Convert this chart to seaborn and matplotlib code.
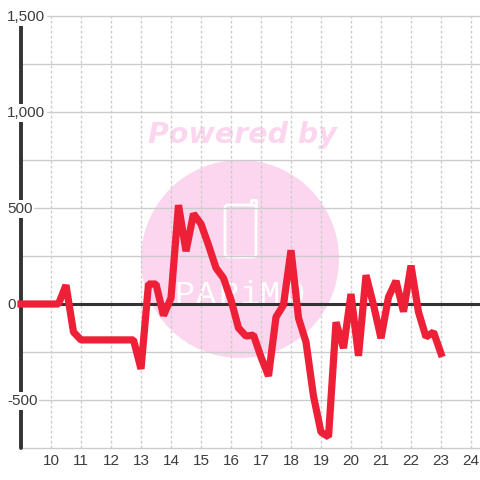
import numpy as np
import pandas as pd
import matplotlib.pyplot as plt
import seaborn as sns
from matplotlib.patches import Circle, FancyBboxPatch

# quarter-hour readings, 9:00 to 23:00
hours = np.arange(9, 23.25, 0.25)
values = [0, 0, 0, 0, 0, 0, 98, -146, -187, -187, -187, -187, -187, -187, -187, -187,
          -338, 104, 104, -60, 31, 515, 275, 470, 417, 307, 188, 135, 21, -125, -167, -162,
          -276, -375, -68, -5, 280, -73, -198, -480, -667, -692, -95, -230, 52, -270,
          150, -5, -178, 36, 120, -40, 200, -42, -172, -146, -258]
x_ticks = list(range(10, 25))
y_major = [-500, 0, 500, 1000, 1500]
y_grid = [-750, -500, -250, 0, 250, 500, 750, 1000, 1250, 1500]
y_labels = ['-500', '0', '500', '1,000', '1,500']
logo_letters = ['P', 'A', 'P', 'i', 'M', 'O']
logo_x = [184, 206, 228.5, 249.5, 270, 294]

df = pd.DataFrame({'hour': hours, 'value': values})

sns.set_style('white')
plt.rcParams['font.family'] = ['Liberation Sans', 'DejaVu Sans']

fig = plt.figure(figsize=(4.8, 4.8), dpi=100)

# watermark sits under the axes, coordinates in pixels
bg = fig.add_axes([0, 0, 1, 1], zorder=0)
bg.set_xlim(0, 480)
bg.set_ylim(480, 0)
bg.axis('off')
pink = '#fbd6ee'
bg.add_patch(Circle((240, 259), 99, color=pink, lw=0))
bg.add_patch(FancyBboxPatch((225, 205), 31, 52, boxstyle='round,pad=0,rounding_size=3',
                            fc='none', ec='white', lw=2))
bg.plot([251, 251, 256, 256], [205, 200, 200, 208], color='white', lw=2)
bg.text(242, 135, 'Powered by', ha='center', va='center', color=pink, fontsize=20.5,
        fontweight='bold', fontstyle='italic', family='DejaVu Sans')
for letter, lx in zip(logo_letters, logo_x):
    bg.text(lx, 304, letter, ha='center', va='baseline', color='white', fontsize=24,
            family='Liberation Mono')

ax = fig.add_axes([21 / 480, 32 / 480, 459 / 480, 432 / 480], zorder=1)
ax.patch.set_alpha(0)
ax.set_xlim(9, 24.3)
ax.set_ylim(-750, 1500)

for y in y_grid:
    ax.axhline(y, color='#cccccc', lw=1, zorder=1, clip_on=False)
for x in x_ticks:
    ax.axvline(x, color='#cccccc', lw=1, ls=(0, (2, 1.6)), zorder=1)
ax.axhline(0, color='#333333', lw=2.2, zorder=2)
ax.axvline(9, color='#333333', lw=2.8, zorder=2, clip_on=False)

sns.lineplot(data=df, x='hour', y='value', color='#ee2037', lw=5.2, ax=ax, zorder=3,
             clip_on=False, solid_joinstyle='bevel', solid_capstyle='projecting')

sns.despine(ax=ax, left=True, bottom=True, top=True, right=True)
ax.set_xlabel('')
ax.set_ylabel('')
ax.set_yticks([])
ax.set_xticks(x_ticks)
ax.set_xticklabels([str(x) for x in x_ticks], fontsize=11, color='#3c3c3c')
ax.tick_params(axis='x', length=0, pad=4.5)

# y labels are drawn inside the plot, left aligned, with a white box behind them
for y, lab in zip(y_major, y_labels):
    ax.annotate(lab, (0, y), xycoords=('axes fraction', 'data'), xytext=(-14, -1),
                textcoords='offset pixels', ha='left', va='center', fontsize=11,
                color='#3c3c3c', zorder=4, annotation_clip=False,
                bbox=dict(fc='white', ec='none', pad=1.2))

fig.savefig('out.png', dpi=100)
